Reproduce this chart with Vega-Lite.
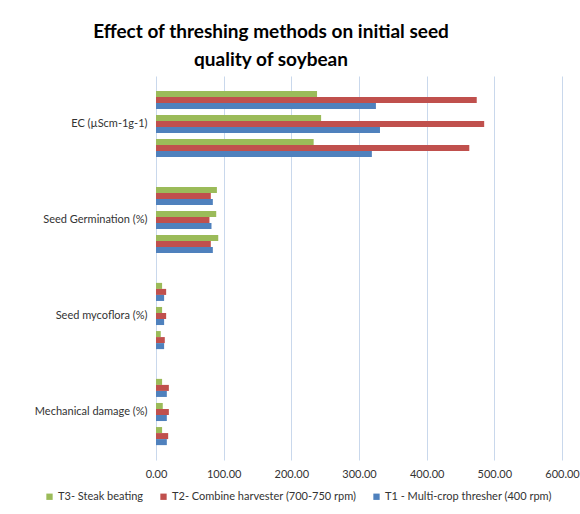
{
  "$schema": "https://vega.github.io/schema/vega-lite/v6.json",
  "autosize": "none",
  "width": 406,
  "height": 384,
  "padding": {"left": 156, "top": 76, "right": 18, "bottom": 54},
  "background": "white",
  "title": {
    "text": ["Effect of threshing methods on initial seed", "quality of soybean"],
    "font": "Lato",
    "fontSize": 19,
    "fontWeight": "bold",
    "color": "#000000",
    "lineHeight": 28,
    "anchor": "middle",
    "frame": "group",
    "dx": -88,
    "offset": 6
  },
  "data": {
    "values": [
      {"metric": "EC (µScm-1g-1)", "rep": "1", "treatment": "T3- Steak beating", "value": 238},
      {"metric": "EC (µScm-1g-1)", "rep": "1", "treatment": "T2- Combine harvester (700-750 rpm)", "value": 474},
      {"metric": "EC (µScm-1g-1)", "rep": "1", "treatment": "T1 - Multi-crop thresher (400 rpm)", "value": 325},
      {"metric": "EC (µScm-1g-1)", "rep": "2", "treatment": "T3- Steak beating", "value": 244},
      {"metric": "EC (µScm-1g-1)", "rep": "2", "treatment": "T2- Combine harvester (700-750 rpm)", "value": 485},
      {"metric": "EC (µScm-1g-1)", "rep": "2", "treatment": "T1 - Multi-crop thresher (400 rpm)", "value": 331},
      {"metric": "EC (µScm-1g-1)", "rep": "3", "treatment": "T3- Steak beating", "value": 233},
      {"metric": "EC (µScm-1g-1)", "rep": "3", "treatment": "T2- Combine harvester (700-750 rpm)", "value": 463},
      {"metric": "EC (µScm-1g-1)", "rep": "3", "treatment": "T1 - Multi-crop thresher (400 rpm)", "value": 319},
      {"metric": "Seed Germination (%)", "rep": "1", "treatment": "T3- Steak beating", "value": 90},
      {"metric": "Seed Germination (%)", "rep": "1", "treatment": "T2- Combine harvester (700-750 rpm)", "value": 81},
      {"metric": "Seed Germination (%)", "rep": "1", "treatment": "T1 - Multi-crop thresher (400 rpm)", "value": 84},
      {"metric": "Seed Germination (%)", "rep": "2", "treatment": "T3- Steak beating", "value": 89},
      {"metric": "Seed Germination (%)", "rep": "2", "treatment": "T2- Combine harvester (700-750 rpm)", "value": 79},
      {"metric": "Seed Germination (%)", "rep": "2", "treatment": "T1 - Multi-crop thresher (400 rpm)", "value": 82},
      {"metric": "Seed Germination (%)", "rep": "3", "treatment": "T3- Steak beating", "value": 92},
      {"metric": "Seed Germination (%)", "rep": "3", "treatment": "T2- Combine harvester (700-750 rpm)", "value": 81},
      {"metric": "Seed Germination (%)", "rep": "3", "treatment": "T1 - Multi-crop thresher (400 rpm)", "value": 84},
      {"metric": "Seed mycoflora (%)", "rep": "1", "treatment": "T3- Steak beating", "value": 9},
      {"metric": "Seed mycoflora (%)", "rep": "1", "treatment": "T2- Combine harvester (700-750 rpm)", "value": 15},
      {"metric": "Seed mycoflora (%)", "rep": "1", "treatment": "T1 - Multi-crop thresher (400 rpm)", "value": 12},
      {"metric": "Seed mycoflora (%)", "rep": "2", "treatment": "T3- Steak beating", "value": 9},
      {"metric": "Seed mycoflora (%)", "rep": "2", "treatment": "T2- Combine harvester (700-750 rpm)", "value": 15},
      {"metric": "Seed mycoflora (%)", "rep": "2", "treatment": "T1 - Multi-crop thresher (400 rpm)", "value": 12},
      {"metric": "Seed mycoflora (%)", "rep": "3", "treatment": "T3- Steak beating", "value": 7},
      {"metric": "Seed mycoflora (%)", "rep": "3", "treatment": "T2- Combine harvester (700-750 rpm)", "value": 13},
      {"metric": "Seed mycoflora (%)", "rep": "3", "treatment": "T1 - Multi-crop thresher (400 rpm)", "value": 12},
      {"metric": "Mechanical damage (%)", "rep": "1", "treatment": "T3- Steak beating", "value": 9},
      {"metric": "Mechanical damage (%)", "rep": "1", "treatment": "T2- Combine harvester (700-750 rpm)", "value": 19},
      {"metric": "Mechanical damage (%)", "rep": "1", "treatment": "T1 - Multi-crop thresher (400 rpm)", "value": 16},
      {"metric": "Mechanical damage (%)", "rep": "2", "treatment": "T3- Steak beating", "value": 10},
      {"metric": "Mechanical damage (%)", "rep": "2", "treatment": "T2- Combine harvester (700-750 rpm)", "value": 19},
      {"metric": "Mechanical damage (%)", "rep": "2", "treatment": "T1 - Multi-crop thresher (400 rpm)", "value": 16},
      {"metric": "Mechanical damage (%)", "rep": "3", "treatment": "T3- Steak beating", "value": 9},
      {"metric": "Mechanical damage (%)", "rep": "3", "treatment": "T2- Combine harvester (700-750 rpm)", "value": 18},
      {"metric": "Mechanical damage (%)", "rep": "3", "treatment": "T1 - Multi-crop thresher (400 rpm)", "value": 16}
    ]
  },
  "transform": [
    {"calculate": "datum.rep + '-' + substring(datum.treatment, 0, 2)", "as": "slot"}
  ],
  "mark": {"type": "bar"},
  "encoding": {
    "y": {
      "field": "metric",
      "type": "nominal",
      "sort": ["EC (µScm-1g-1)", "Seed Germination (%)", "Seed mycoflora (%)", "Mechanical damage (%)"],
      "scale": {"paddingInner": 0.31, "paddingOuter": 0.155},
      "axis": {
        "title": null,
        "domain": false,
        "ticks": false,
        "labelFont": "Lato",
        "labelFontSize": 11,
        "labelColor": "#333333",
        "labelPadding": 9
      }
    },
    "yOffset": {
      "field": "slot",
      "type": "nominal",
      "scale": {
        "domain": ["1-T3", "1-T2", "1-T1", "g1", "2-T3", "2-T2", "2-T1", "g2", "3-T3", "3-T2", "3-T1"],
        "paddingInner": 0,
        "paddingOuter": 0
      }
    },
    "x": {
      "field": "value",
      "type": "quantitative",
      "scale": {"domain": [0, 600], "nice": false},
      "axis": {
        "title": null,
        "values": [0, 100, 200, 300, 400, 500, 600],
        "format": ".2f",
        "domain": false,
        "ticks": false,
        "grid": true,
        "gridColor": "#c9d8ec",
        "labelFlush": false,
        "labelFont": "Lato",
        "labelFontSize": 11,
        "labelColor": "#333333",
        "labelPadding": 8
      }
    },
    "color": {
      "field": "treatment",
      "type": "nominal",
      "scale": {
        "domain": ["T3- Steak beating", "T2- Combine harvester (700-750 rpm)", "T1 - Multi-crop thresher (400 rpm)"],
        "range": ["#9bbb59", "#c0504d", "#4f81bd"]
      },
      "legend": {
        "title": null,
        "orient": "none",
        "direction": "horizontal",
        "legendX": -112,
        "legendY": 415,
        "symbolType": "square",
        "symbolSize": 40,
        "labelFont": "Lato",
        "labelFontSize": 11,
        "labelColor": "#333333",
        "labelLimit": 400,
        "labelOffset": 3,
        "columnPadding": 14
      }
    }
  },
  "config": {
    "view": {"stroke": null}
  }
}
